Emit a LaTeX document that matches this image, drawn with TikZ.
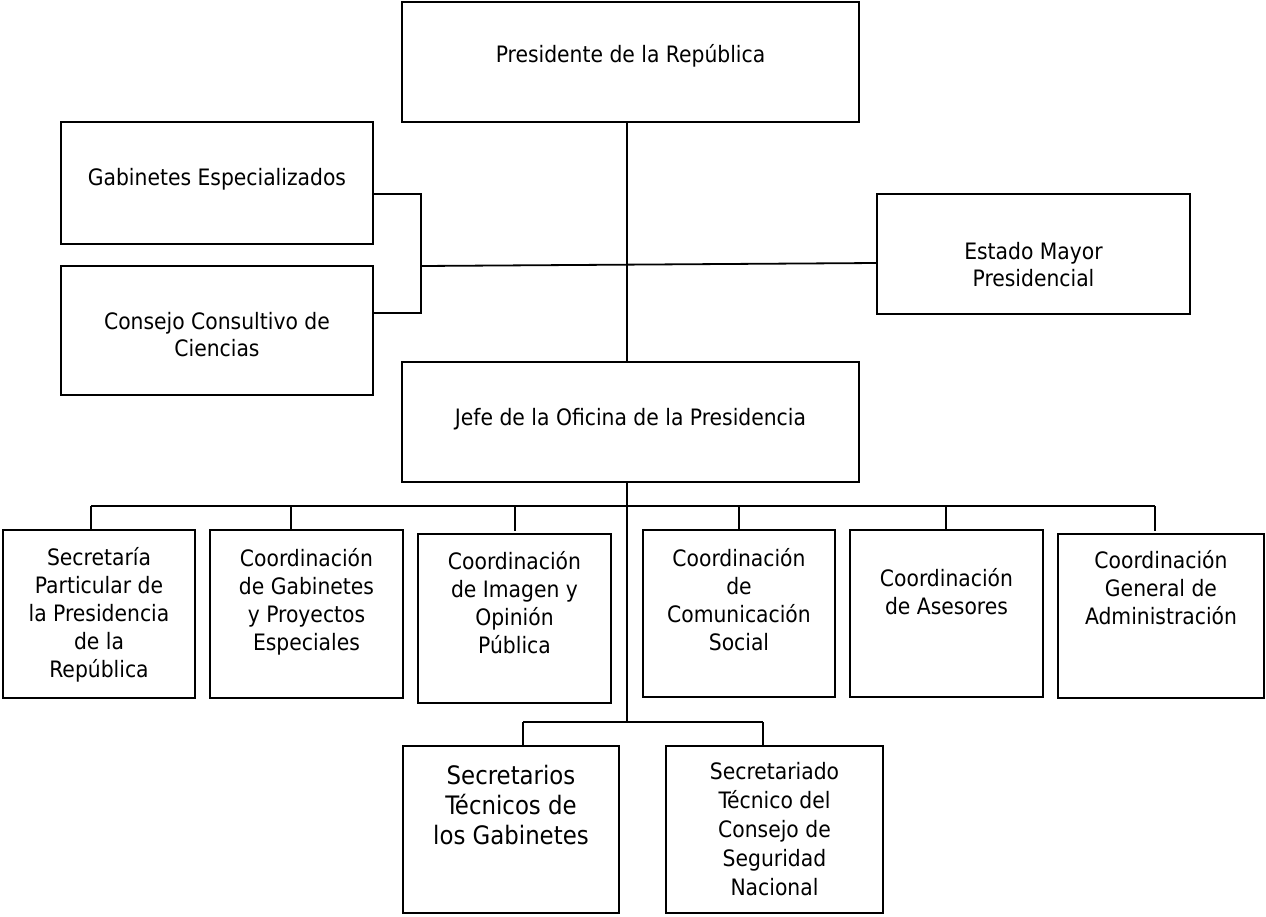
\documentclass[tikz,border=0pt]{standalone}
\usepackage{fontspec}
\setmainfont{DejaVu Sans Condensed}
\usetikzlibrary{calc}
\def\caja(#1)(#2,#3)(#4,#5){\node[caja, minimum width={(#4-#2)*0.5pt}, minimum height={(#5-#3)*0.5pt}] (#1) at ({(#2+#4)/2}, {(#3+#5)/2}) {};}

\begin{document}
\begin{tikzpicture}[x=0.5pt, y=-0.5pt,
	caja/.style={draw, line width=1pt, inner sep=0pt},
	txt/.style={anchor=north, align=center, inner sep=0pt, font=\fontsize{11.3}{13.5}\selectfont, execute at begin node={\rule{0pt}{0.9em}}},
	txtb/.style={txt, font=\fontsize{11.3}{14}\selectfont},
	linea/.style={line width=0.9pt}]
			%%%%% START %%%%%
			
			\useasboundingbox (0, 0) rectangle (1266, 917);
			
			\caja(pres)(402,2)(859,122)
			\caja(gab)(61,122)(373,244)
			\caja(cons)(61,266)(373,395)
			\caja(est)(877,194)(1190,314)
			\caja(jefe)(402,362)(859,482)
			
			\node[txt] (presT) at ($(pres.north)+(0,41)$) {Presidente de la República};
			\node[txt] (gabT) at ($(gab.north)+(0,44)$) {Gabinetes Especializados};
			\node[txt] (consT) at ($(cons.north)+(0,47)$) {Consejo Consultivo de\\Ciencias};
			\node[txt] (estT) at ($(est.north)+(0,49)$) {Estado Mayor\\Presidencial};
			\node[txt] (jefeT) at ($(jefe.north)+(0,44)$) {Jefe de la Oficina de la Presidencia};
			
			\caja(sec)(3,530)(195,698)
			\caja(cgab)(210,530)(403,698)
			\caja(img)(418,534)(611,703)
			\caja(com)(643,530)(835,697)
			\caja(ase)(850,530)(1043,697)
			\caja(adm)(1058,534)(1264,698)
			
			\node[txtb] (secT) at ($(sec.north)+(0,18)$) {Secretaría\\Particular de\\la Presidencia\\de la\\República};
			\node[txtb] (cgabT) at ($(cgab.north)+(0,19)$) {Coordinación\\de Gabinetes\\y Proyectos\\Especiales};
			\node[txtb] (imgT) at ($(img.north)+(0,18)$) {Coordinación\\de Imagen y\\Opinión\\Pública};
			\node[txtb] (comT) at ($(com.north)+(0,19)$) {Coordinación\\de\\Comunicación\\Social};
			\node[txtb] (aseT) at ($(ase.north)+(0,39)$) {Coordinación\\de Asesores};
			\node[txtb] (admT) at ($(adm.north)+(0,17)$) {Coordinación\\General de\\Administración};
			
			\caja(stec)(403,746)(619,913)
			\caja(snac)(666,746)(883,913)
			
			\node[txt, font=\fontsize{12.7}{15}\selectfont] (stecT) at ($(stec.north)+(0,20)$) {Secretarios\\Técnicos de\\los Gabinetes};
			\node[txt, font=\fontsize{11.3}{14.5}\selectfont] (snacT) at ($(snac.north)+(0,17)$) {Secretariado\\Técnico del\\Consejo de\\Seguridad\\Nacional};
			
			% lineas de mando
			\coordinate (eje) at (627, 122);
			\coordinate (lazo) at (421, 266);
			\draw[linea] (eje) -- (eje |- jefe.north);
			\draw[linea] ($(gab.east)+(0,11)$) -| (lazo) |- ($(cons.east)+(0,-17.5)$);
			\draw[linea] (lazo) -- ($(est.west)+(0,9)$);
			
			\coordinate (b1) at (91, 506);
			\coordinate (b2) at (291, 506);
			\coordinate (b3) at (515, 506);
			\coordinate (b4) at (739, 506);
			\coordinate (b5) at (946, 506);
			\coordinate (b6) at (1155, 506);
			\draw[linea] (b1) -- (b6);
			\draw[linea] (b1) -- (b1 |- sec.north);
			\draw[linea] (b2) -- (b2 |- cgab.north);
			\draw[linea] (b3) -- ++(0, 25);
			\draw[linea] (b4) -- (b4 |- com.north);
			\draw[linea] (b5) -- (b5 |- ase.north);
			\draw[linea] (b6) -- ++(0, 25);
			
			\coordinate (c1) at (523, 722);
			\coordinate (c2) at (763, 722);
			\draw[linea] (jefe.south -| eje) -- (eje |- c1);
			\draw[linea] (c1) -- (c2);
			\draw[linea] (c1) -- (c1 |- stec.north);
			\draw[linea] (c2) -- (c2 |- snac.north);
			
			%%%%% END %%%%%
\end{tikzpicture}
\end{document}
